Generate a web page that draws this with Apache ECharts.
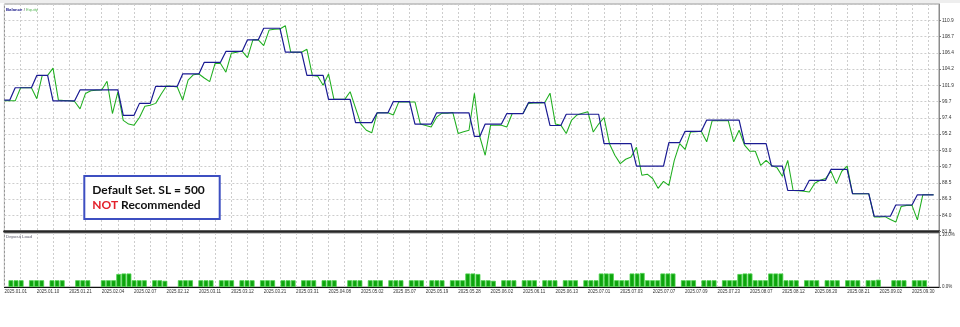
<!DOCTYPE html>
<html><head><meta charset="utf-8">
<script src="https://cdn.jsdelivr.net/npm/echarts@6/dist/echarts.min.js"></script>
<style>html,body{margin:0;padding:0;background:#fff;}#c{width:960px;height:327px;}</style>
</head><body><div id="c"></div>
<script>
// x-axis date labels (one every 6 deal slots)
const dateLabels = ['2025.01.01','2025.01.10','2025.01.21','2025.02.04','2025.02.07','2025.02.12','2025.03.11','2025.03.12','2025.03.21','2025.03.31','2025.04.08','2025.05.02','2025.05.07','2025.05.19','2025.05.28','2025.06.02','2025.06.11','2025.06.13','2025.07.01','2025.07.03','2025.07.07','2025.07.09','2025.07.23','2025.08.07','2025.08.12','2025.08.20','2025.08.21','2025.09.02','2025.09.30'];
// right axis tick labels of the balance / equity pane
const yTickLabels = ['81.8','84.0','86.3','88.5','90.7','93.0','95.2','97.4','99.7','101.9','104.2','106.4','108.7','110.9'];
const yMin = 81.8, yStep = 2.2385;
const loadTickLabels = ['0.0%','10.0%'];

const balance = [
99.9,99.9,101.6,101.6,101.6,101.6,103.3,103.3,103.3,99.8,
99.8,99.8,99.8,99.8,101.3,101.3,101.3,101.3,101.3,101.3,
101.3,101.3,97.8,97.8,97.8,99.45,99.45,99.45,101.8,101.8,
101.8,101.8,101.8,103.5,103.5,103.5,103.5,105.1,105.1,105.1,
105.1,106.6,106.6,106.6,106.6,108.2,108.2,108.2,109.8,109.8,
109.8,109.8,106.5,106.5,106.5,106.5,103.3,103.3,103.3,103.3,
100.0,100.0,100.0,100.0,100.0,96.8,96.8,96.8,96.8,98.15,
98.15,98.15,99.7,99.7,99.7,99.7,96.6,96.6,96.6,96.6,
98.15,98.15,98.15,98.15,98.15,98.15,98.15,94.9,94.9,96.6,
96.6,96.6,96.6,98.05,98.05,98.05,98.05,99.55,99.55,99.55,
99.55,96.4,96.4,96.4,97.95,97.95,97.95,97.95,97.95,97.95,
97.95,93.9,93.9,93.9,93.9,93.9,93.9,90.8,90.8,90.8,
90.8,90.8,90.8,94.05,94.05,94.05,95.6,95.6,95.6,95.6,
97.15,97.15,97.15,97.15,97.15,97.15,97.15,93.9,93.9,93.9,
93.9,93.9,90.8,90.8,90.8,87.45,87.45,87.45,87.45,88.85,
88.85,88.85,88.85,90.35,90.35,90.35,90.35,87.0,87.0,87.0,
87.0,83.9,83.9,83.9,83.9,85.45,85.45,85.45,85.45,86.85,
86.85,86.85,86.85];

const equity = [
99.8,99.8,99.8,101.6,101.6,101.6,100.1,103.3,103.3,104.3,
99.9,99.85,99.8,99.7,98.7,100.8,101.2,101.25,101.3,102.5,
98.05,101.0,97.1,96.6,96.45,97.5,99.05,99.2,99.45,100.7,
101.85,101.8,101.7,99.9,102.65,103.4,103.5,102.95,102.45,104.95,
104.95,103.75,106.35,106.5,106.65,105.75,108.2,108.2,107.4,109.55,
109.65,109.7,110.15,106.5,106.5,106.5,106.9,103.3,103.2,101.95,
103.5,100.0,100.0,100.0,101.05,98.8,96.6,95.75,95.4,98.15,
98.15,98.15,97.85,99.65,99.65,99.65,99.65,96.6,96.4,96.2,
97.55,98.1,98.1,98.2,95.3,95.55,95.75,100.85,94.85,92.3,
96.45,96.45,96.45,96.2,98.05,98.05,98.05,99.45,99.5,99.5,
99.55,100.85,96.6,96.45,95.3,97.15,97.85,98.1,98.3,95.5,
96.6,97.5,93.9,92.3,91.15,91.75,92.05,93.4,89.55,89.7,
89.1,87.75,88.7,88.15,91.6,93.9,93.1,95.5,95.55,95.6,
94.15,97.05,97.05,97.05,97.05,94.15,95.75,93.7,92.85,92.85,
90.9,91.6,90.9,90.6,89.4,91.6,87.45,87.4,87.35,87.25,
88.45,88.85,89.1,90.1,88.4,90.1,90.8,87.0,87.0,87.0,
87.0,83.8,83.8,83.85,83.45,83.1,85.25,85.4,85.4,83.4,
86.85,86.85,86.85];

// deposit load in %, one value per deal slot (0 = no bar)
const depositLoad = [
0,1.3,1.3,1.3,0,1.3,1.3,1.3,0,1.3,
1.3,1.3,0,0,1.3,1.3,1.3,0,0,1.3,
1.3,1.3,2.5,2.6,2.6,1.3,1.3,1.3,0,1.3,
1.3,1.2,0,0,1.3,1.3,1.3,0,1.3,1.3,
1.3,0,1.3,1.3,1.3,0,1.3,1.3,1.3,0,
1.3,1.3,1.3,0,1.3,1.3,1.3,0,1.3,1.3,
1.3,0,1.3,1.3,1.3,0,0,1.3,1.3,1.3,
0,1.3,1.3,1.3,0,1.3,1.3,1.3,0,1.3,
1.3,1.3,0,1.3,1.3,1.3,0,1.3,1.3,1.3,
2.6,2.6,2.5,1.3,1.3,1.2,0,1.3,1.3,1.3,
0,1.3,1.3,1.3,0,1.3,1.3,1.3,0,1.3,
1.3,1.3,0,1.3,1.3,1.3,2.6,2.6,2.6,1.3,
1.3,1.3,2.6,2.6,2.7,1.3,1.3,1.3,2.6,2.6,
2.6,0,1.3,1.3,1.3,0,1.3,1.3,1.3,0,
1.3,1.3,1.3,2.5,2.6,2.6,1.3,1.3,1.3,2.6,
2.6,2.6,1.3,1.3,1.3,0,1.3,1.3,1.3,0,
1.3,1.3,1.3,0,1.3,1.3,1.3,0,1.3,1.3,
1.4,0,0,1.3,1.3,1.3,0,1.3,1.3,1.3,
0,0];

const slotCount = balance.length + 1;
const slots = Array.from({length: slotCount}, (_, i) => (i % 6 === 0 && dateLabels[i / 6]) ? dateLabels[i / 6] : '');
const loadSlots = depositLoad.map((_, i) => String(i));

const gridLine = {show: true, lineStyle: {color: '#cdcdcd', width: 1, type: [2, 2]}};
const smallFont = 'Liberation Sans';

const chart = echarts.init(document.getElementById('c'), null, {renderer: 'canvas'});
chart.setOption({
  animation: false,
  backgroundColor: '#ffffff',
  grid: [
    {left: 4.4, right: 21, top: 4, bottom: 95.5, show: true, borderColor: '#8c8c8c', borderWidth: 1, containLabel: false, outerBoundsMode: 'none'},
    {left: 4.4, right: 21, top: 233, bottom: 40, show: true, borderColor: '#8c8c8c', borderWidth: 1, containLabel: false, outerBoundsMode: 'none'},
    {left: 3.2, right: 22.6, top: 233, bottom: 40, containLabel: false, outerBoundsMode: 'none'}
  ],
  xAxis: [
    {gridIndex: 0, type: 'category', data: slots, boundaryGap: false,
     axisLine: {show: true, lineStyle: {color: '#262626', width: 2.5}},
     axisTick: {show: false}, axisLabel: {show: false},
     splitLine: Object.assign({interval: 2}, gridLine)},
    {gridIndex: 1, type: 'category', data: slots, boundaryGap: false,
     axisLine: {show: true, lineStyle: {color: '#111', width: 1}},
     axisTick: {show: false},
     axisLabel: {show: true, interval: 5, align: 'left', margin: 2, fontSize: 4.5, fontFamily: smallFont, color: '#333'},
     splitLine: Object.assign({interval: 2}, gridLine)},
    {gridIndex: 2, type: 'category', data: loadSlots, boundaryGap: true, show: false}
  ],
  yAxis: [
    {gridIndex: 0, type: 'value', min: yMin, max: yMin + yStep * 14, show: false},
    {gridIndex: 0, type: 'value', position: 'right', min: 0, max: 14, interval: 1,
     axisLine: {show: true, lineStyle: {color: '#8c8c8c', width: 1}},
     axisTick: {show: true, length: 2, lineStyle: {color: '#777'}},
     axisLabel: {show: true, margin: 3, fontSize: 4.8, fontFamily: smallFont, color: '#333', showMaxLabel: false,
       formatter: v => yTickLabels[v] || ''},
     splitLine: gridLine},
    {gridIndex: 1, type: 'value', position: 'right', min: 0, max: 10.385, interval: 10,
     axisLine: {show: true, lineStyle: {color: '#8c8c8c', width: 1}},
     axisTick: {show: true, length: 2, lineStyle: {color: '#777'}},
     axisLabel: {show: true, margin: 3, fontSize: 4.5, fontFamily: smallFont, color: '#333', showMaxLabel: false,
       formatter: v => loadTickLabels[v / 10] || ''},
     splitLine: {show: false}},
    {gridIndex: 2, type: 'value', min: 0, max: 10.385, show: false}
  ],
  series: [
    {name: 'Equity', type: 'line', xAxisIndex: 0, yAxisIndex: 0, data: equity, symbol: 'none', showSymbol: false,
     lineStyle: {color: '#1fae1f', width: 1.05}, z: 3, silent: true},
    {name: 'Balance', type: 'line', xAxisIndex: 0, yAxisIndex: 0, data: balance, symbol: 'none', showSymbol: false,
     lineStyle: {color: '#1a1a92', width: 1.2}, z: 4, silent: true},
    {name: 'Deposit Load', type: 'bar', xAxisIndex: 2, yAxisIndex: 3, barCategoryGap: '6%',
     data: depositLoad.map(v => v > 0 ? v : '-'),
     itemStyle: {color: '#0ea50e', borderColor: '#4fd34f', borderWidth: 0.8}, silent: true}
  ],
  graphic: [
    {type: 'rect', shape: {x: 0, y: 0, width: 960, height: 3}, style: {fill: '#eeeeee'}, silent: true, z: 1},
    {type: 'text', x: 6, y: 10, z: 10, silent: true,
     style: {text: '{b|Balance}{s| / }{e|Equity}', verticalAlign: 'middle', textVerticalAlign: 'middle',
       fontSize: 4.3, fontFamily: smallFont, fontWeight: 'bold',
       rich: {b: {fill: '#1a1a8a', color: '#1a1a8a', fontSize: 4.3, fontWeight: 'bold', fontFamily: smallFont},
              s: {fill: '#444', color: '#444', fontSize: 4.3, fontFamily: smallFont},
              e: {fill: '#5cb85c', color: '#5cb85c', fontSize: 4.3, fontFamily: smallFont}}}},
    {type: 'text', x: 6, y: 236.5, z: 10, silent: true,
     style: {text: 'Deposit Load', fill: '#556', verticalAlign: 'middle', textVerticalAlign: 'middle', fontSize: 4.4, fontFamily: smallFont}},
    {type: 'group', z: 100, silent: true, children: [
      {type: 'rect', z: 100, shape: {x: 84.3, y: 176, width: 135.4, height: 43}, style: {fill: '#ffffff', stroke: '#3d4fc1', lineWidth: 2}},
      {type: 'text', z: 101, x: 92.3, y: 190.5,
       style: {text: 'Default Set. SL = 500', fill: '#111', fontSize: 12, fontWeight: 'bold', fontFamily: 'Lato',
         verticalAlign: 'middle', textVerticalAlign: 'middle'}},
      {type: 'text', z: 101, x: 92.3, y: 205.5,
       style: {text: '{r|NOT}{k| Recommended}', fontSize: 12, fontWeight: 'bold', fontFamily: 'Lato',
         verticalAlign: 'middle', textVerticalAlign: 'middle',
         rich: {r: {fill: '#e3202a', color: '#e3202a', fontSize: 12, fontWeight: 'bold', fontFamily: 'Lato'},
                k: {fill: '#111', color: '#111', fontSize: 12, fontWeight: 'bold', fontFamily: 'Lato'}}}}
    ]}
  ]
});
</script>
</body></html>
